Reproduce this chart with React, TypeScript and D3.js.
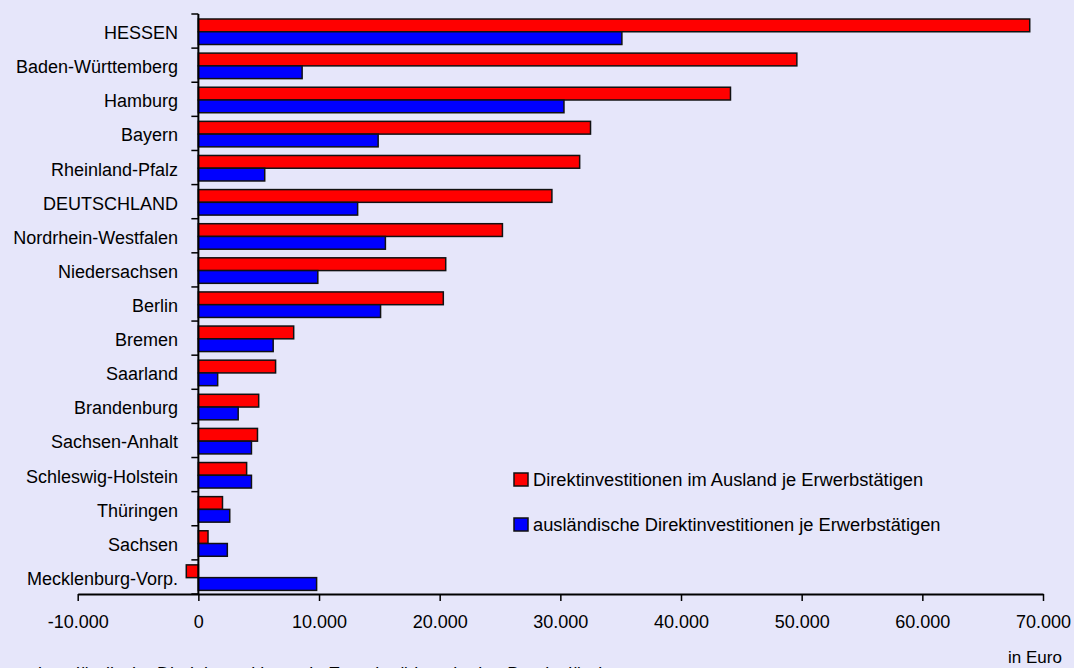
import React, { useEffect, useRef } from 'react';
import * as d3 from 'd3';

const states = [
  'HESSEN', 'Baden-Württemberg', 'Hamburg', 'Bayern', 'Rheinland-Pfalz', 'DEUTSCHLAND',
  'Nordrhein-Westfalen', 'Niedersachsen', 'Berlin', 'Bremen', 'Saarland', 'Brandenburg',
  'Sachsen-Anhalt', 'Schleswig-Holstein', 'Thüringen', 'Sachsen', 'Mecklenburg-Vorp.',
];
// Direktinvestitionen im Ausland je Erwerbstätigen
const outward = [68900, 49600, 44100, 32500, 31600, 29300, 25200, 20500, 20300, 7900, 6400, 5000, 4900, 4000, 2000, 800, -1000];
// ausländische Direktinvestitionen je Erwerbstätigen
const inward = [35100, 8600, 30300, 14900, 5500, 13200, 15500, 9900, 15100, 6200, 1600, 3300, 4400, 4400, 2600, 2400, 9800];
const xTicks = [-10000, 0, 10000, 20000, 30000, 40000, 50000, 60000, 70000];
const seriesNames = ['Direktinvestitionen im Ausland je Erwerbstätigen', 'ausländische Direktinvestitionen je Erwerbstätigen'];
const seriesColors = ['#ff0000', '#0000ff'];

const W = 1074;
const H = 668;
const FONT = '"Liberation Sans", Arial, sans-serif';

const de = d3.formatLocale({ decimal: ',', thousands: '.', grouping: [3], currency: ['', ' €'], minus: '-' });
const fmt = de.format(',.0f');

const App: React.FC = () => {
  const svgRef = useRef<SVGSVGElement>(null);

  useEffect(() => {
    if (!svgRef.current) return;
    const svg = d3.select(svgRef.current);
    svg.selectAll('*').remove();

    svg.append('rect').attr('width', W).attr('height', H).attr('fill', '#e6e6fa');

    const x = d3.scaleLinear().domain([-10000, 70000]).range([77.7, 1043]);
    const y = d3.scaleBand<string>().domain(states).range([14, 594]);
    const sub = d3.scaleBand<number>().domain([0, 1]).range([5, 30.5]);

    const rows = states.map((s, i) => ({ s, vals: [outward[i], inward[i]] }));

    // bars
    const g = svg.append('g');
    rows.forEach(r => {
      r.vals.forEach((v, k) => {
        g.append('rect')
          .attr('x', x(Math.min(0, v)))
          .attr('y', (y(r.s) as number) + (sub(k) as number))
          .attr('width', Math.abs(x(v) - x(0)))
          .attr('height', sub.bandwidth())
          .attr('fill', seriesColors[k])
          .attr('stroke', '#111')
          .attr('stroke-width', 1.5);
      });
    });

    // category labels
    svg.append('g')
      .selectAll('text')
      .data(states)
      .join('text')
      .attr('x', 178)
      .attr('y', d => (y(d) as number) + y.bandwidth() / 2 + 2)
      .attr('text-anchor', 'end')
      .attr('dominant-baseline', 'central')
      .attr('font-family', FONT)
      .attr('font-size', 18)
      .attr('fill', '#000')
      .text(d => d);

    // y axis line and boundary ticks
    const x0 = x(0);
    const bounds = states.map(s => y(s) as number).concat([594]);
    svg.append('g')
      .selectAll('line')
      .data(bounds)
      .join('line')
      .attr('x1', x0 - 7)
      .attr('x2', x0)
      .attr('y1', d => d)
      .attr('y2', d => d)
      .attr('stroke', '#000')
      .attr('stroke-width', 1.5);
    svg.append('line')
      .attr('x1', x0).attr('x2', x0)
      .attr('y1', 14).attr('y2', 594)
      .attr('stroke', '#000').attr('stroke-width', 2);

    // x axis
    const xa = svg.append('g')
      .attr('transform', 'translate(0,594)')
      .call(d3.axisBottom(x).tickValues(xTicks).tickFormat(d => fmt(d as number)).tickSize(7).tickSizeOuter(0).tickPadding(14));
    xa.select('.domain').attr('stroke', '#000').attr('stroke-width', 2);
    xa.selectAll('.tick line').attr('stroke', '#000').attr('stroke-width', 1.5);
    xa.selectAll('.tick text').attr('font-family', FONT).attr('font-size', 18).attr('fill', '#000');

    // legend
    const lg = svg.append('g');
    seriesNames.forEach((name, k) => {
      const ly = 473 + k * 45;
      lg.append('rect')
        .attr('x', 514).attr('y', ly)
        .attr('width', 14).attr('height', 13)
        .attr('fill', seriesColors[k])
        .attr('stroke', '#111').attr('stroke-width', 1.5);
      lg.append('text')
        .attr('x', 533).attr('y', ly + 13)
        .attr('font-family', FONT).attr('font-size', 18.3).attr('fill', '#000')
        .text(name);
    });

    svg.append('text')
      .attr('x', 1035).attr('y', 663)
      .attr('text-anchor', 'middle')
      .attr('font-family', FONT).attr('font-size', 17).attr('fill', '#000')
      .text('in Euro');

    // caption, cut off at the bottom edge as in the source image
    svg.append('text')
      .attr('x', 12).attr('y', 679.5)
      .attr('font-family', FONT).attr('font-size', 18).attr('fill', '#000')
      .text('und ausländische Direktinvestitionen je Erwerbstätigen in den Bundesländern');
  }, []);

  return (
    <svg
      ref={svgRef}
      width={W}
      height={H}
      style={{ position: 'absolute', left: 0, top: 0, display: 'block', overflow: 'hidden' }}
    />
  );
};

export default App;
